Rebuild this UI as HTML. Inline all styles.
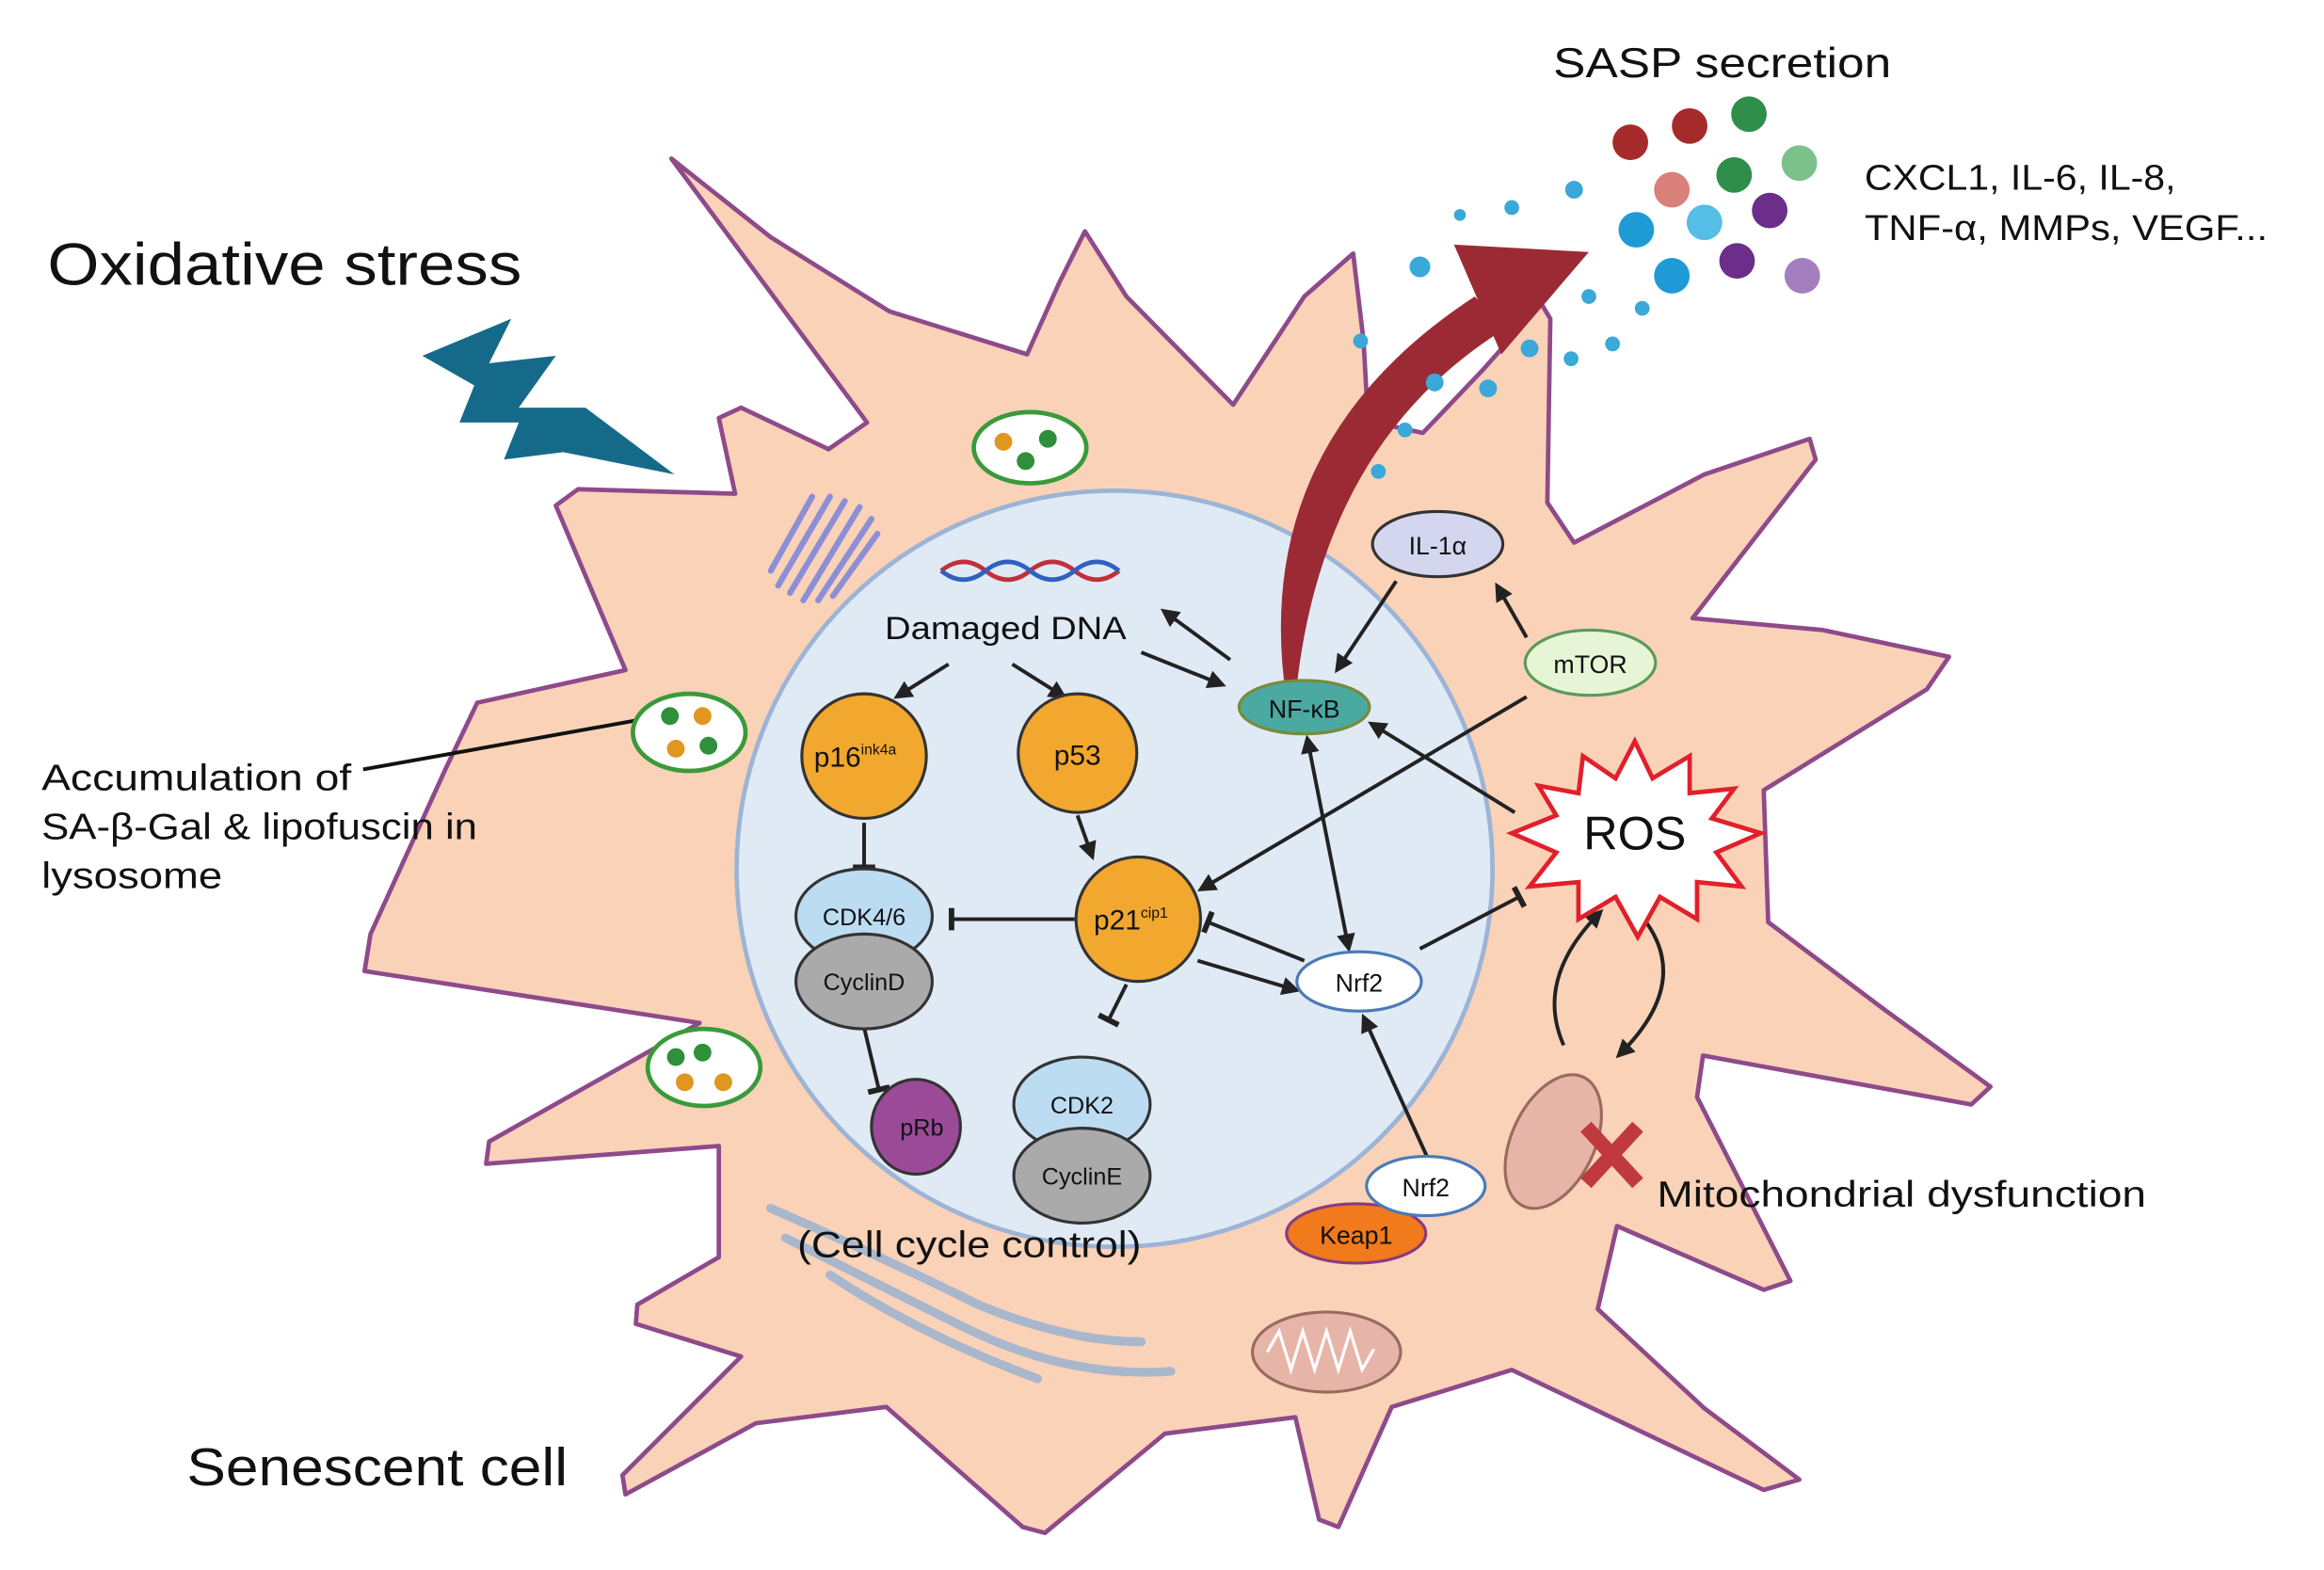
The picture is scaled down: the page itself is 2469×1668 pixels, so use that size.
<!DOCTYPE html>
<html><head><meta charset="utf-8"><style>
html,body{margin:0;padding:0;background:#fff;}
svg{display:block;}
text{font-family:"Liberation Sans",sans-serif;}
</style></head><body>
<svg width="2469" height="1668" viewBox="0 0 1568 1059" preserveAspectRatio="none" xmlns="http://www.w3.org/2000/svg">
<defs>
<marker id="ah" viewBox="0 0 10 10" refX="8" refY="5" markerWidth="5" markerHeight="5" orient="auto-start-reverse"><path d="M0,0 L10,5 L0,10 z" fill="#222"/></marker>
<marker id="tb" viewBox="0 0 10 10" refX="5" refY="5" markerWidth="6" markerHeight="6" orient="auto"><path d="M5,0 L5,10" stroke="#222" stroke-width="2.5"/></marker>
</defs>
<!-- cell -->
<polygon points="453,107 520,160 600,210 693,239 715,190 732,156 760,200 832,273 880,200 913,171 920,230 923,284 960,292 1000,250 1040,205 1046,215 1044,339 1062,366 1150,320 1221,296 1225,310 1142,417 1230,425 1315,443 1300,465 1190,533 1193,622 1270,680 1343,733 1330,745 1149,712 1145,740 1208,864 1190,870 1091,827 1078,883 1150,950 1214,998 1190,1005 1020,924 939,949 903,1030 890,1025 874,956 786,967 705,1034 690,1030 598,949 510,960 422,1008 420,995 500,915 429,893 430,880 485,848 485,773 328,785 330,770 472,690 246,655 250,630 300,520 322,474 422,452 375,341 390,330 496,333 485,282 500,275 559,303 585,285" fill="#fad2b8" stroke="#8e4a8a" stroke-width="3" stroke-linejoin="round"/>
<!-- nucleus -->
<circle cx="752" cy="586" r="255" fill="#dfeaf5" stroke="#9cb4d6" stroke-width="3"/>
<!-- texts -->
<text x="32" y="192" font-size="40" fill="#111" textLength="320" lengthAdjust="spacingAndGlyphs">Oxidative stress</text>
<text x="126" y="1002" font-size="36" fill="#111" textLength="257" lengthAdjust="spacingAndGlyphs">Senescent cell</text>
<text x="1048" y="52" font-size="28" fill="#111" textLength="228" lengthAdjust="spacingAndGlyphs">SASP secretion</text>
<text x="1258" y="128" font-size="24" fill="#111" textLength="210" lengthAdjust="spacingAndGlyphs">CXCL1, IL-6, IL-8,</text>
<text x="1258" y="162" font-size="24" fill="#111" textLength="272" lengthAdjust="spacingAndGlyphs">TNF-α, MMPs, VEGF...</text>
<text x="28" y="533" font-size="25" fill="#111" textLength="209" lengthAdjust="spacingAndGlyphs">Accumulation of</text>
<text x="28" y="566" font-size="25" fill="#111" textLength="294" lengthAdjust="spacingAndGlyphs">SA-β-Gal &amp; lipofuscin in</text>
<text x="28" y="599" font-size="25" fill="#111" textLength="122" lengthAdjust="spacingAndGlyphs">lysosome</text>
<text x="1118" y="814" font-size="25" fill="#111" textLength="330" lengthAdjust="spacingAndGlyphs">Mitochondrial dysfunction</text>
<text x="597" y="431" font-size="22" fill="#111" textLength="163" lengthAdjust="spacingAndGlyphs">Damaged DNA</text>
<!-- lightning -->
<path d="M285,240 L345,215 L330,245 L375,240 L350,275 L395,275 L455,320 L380,305 L340,310 L350,285 L310,285 L320,260 Z" fill="#156a8a"/>
<!-- pointer line -->
<line x1="245" y1="519" x2="440" y2="484" stroke="#111" stroke-width="2.5"/>
<!-- lysosomes -->
<g stroke="#3a9a3a" stroke-width="3" fill="#fff">
<ellipse cx="695" cy="302" rx="38" ry="24"/><ellipse cx="465" cy="494" rx="38" ry="26"/><ellipse cx="475" cy="720" rx="38" ry="26"/></g>
<g stroke="none">
<circle cx="677" cy="298" r="6" fill="#e0961f"/><circle cx="707" cy="296" r="6" fill="#2f8f3a"/><circle cx="692" cy="311" r="6" fill="#2f8f3a"/>
<circle cx="452" cy="483" r="6" fill="#2f8f3a"/><circle cx="474" cy="483" r="6" fill="#e0961f"/><circle cx="456" cy="505" r="6" fill="#e0961f"/><circle cx="478" cy="503" r="6" fill="#2f8f3a"/>
<circle cx="456" cy="713" r="6" fill="#2f8f3a"/><circle cx="474" cy="710" r="6" fill="#2f8f3a"/><circle cx="462" cy="730" r="6" fill="#e0961f"/><circle cx="488" cy="730" r="6" fill="#e0961f"/></g>
<!-- golgi -->
<g stroke="#8c8fd6" stroke-width="4" fill="none" stroke-linecap="round">
<path d="M525,395 L560,335"/><path d="M533,400 L570,338"/><path d="M542,405 L580,342"/><path d="M552,405 L588,350"/><path d="M562,402 L592,360"/><path d="M520,385 L548,335"/></g>
<!-- ER -->
<g stroke="#a9b7cc" stroke-width="6" fill="none" stroke-linecap="round">
<path d="M520,815 Q600,850 660,880 Q720,905 770,905"/><path d="M530,835 Q600,870 650,895 Q720,930 790,925"/><path d="M560,860 Q620,900 700,930"/></g>
<!-- mitochondria -->
<ellipse cx="895" cy="912" rx="50" ry="27" fill="#e7b5a8" stroke="#9a6a60" stroke-width="2"/>
<path d="M855,912 l8,-14 l8,26 l8,-26 l8,26 l8,-26 l8,26 l8,-26 l8,26 l8,-14" stroke="#fff" stroke-width="2" fill="none"/>
<ellipse cx="1048" cy="770" rx="28" ry="48" transform="rotate(25 1048 770)" fill="#e7b5a8" stroke="#9a6a60" stroke-width="2"/>
<path d="M1070,760 L1105,798 M1105,760 L1070,798" stroke="#c0393f" stroke-width="10"/>
<!-- DNA -->
<path d="M635,385 q15,-12 30,0 t30,0 t30,0 t30,0" stroke="#c0303a" stroke-width="3" fill="none"/>
<path d="M635,385 q15,12 30,0 t30,0 t30,0 t30,0" stroke="#3060c0" stroke-width="3" fill="none"/>
<!-- big red arrow -->
<path d="M868,472 Q842,300 995,200 L1015,222 Q890,300 874,472 Z" fill="#9b2a35"/>
<path d="M981,165 L1072,170 L1013,239 Z" fill="#9b2a35"/>
<!-- SASP dots -->
<g>
<circle cx="1100" cy="96" r="12" fill="#a52a2a"/><circle cx="1140" cy="85" r="12" fill="#a52a2a"/><circle cx="1180" cy="77" r="12" fill="#2f8f4a"/>
<circle cx="1128" cy="128" r="12" fill="#d9807a"/><circle cx="1170" cy="118" r="12" fill="#2f8f4a"/><circle cx="1214" cy="110" r="12" fill="#7cc08a"/>
<circle cx="1104" cy="155" r="12" fill="#1e9ad6"/><circle cx="1150" cy="150" r="12" fill="#55bde6"/><circle cx="1194" cy="142" r="12" fill="#6b2e8a"/>
<circle cx="1128" cy="186" r="12" fill="#1e9ad6"/><circle cx="1172" cy="176" r="12" fill="#6b2e8a"/><circle cx="1216" cy="186" r="12" fill="#a37fc0"/>
<g fill="#3aa8d8"><circle cx="1062" cy="128" r="6"/><circle cx="1020" cy="140" r="5"/><circle cx="985" cy="145" r="4"/><circle cx="958" cy="180" r="7"/><circle cx="1072" cy="200" r="5"/><circle cx="1108" cy="208" r="5"/><circle cx="1088" cy="232" r="5"/><circle cx="1060" cy="242" r="5"/><circle cx="1032" cy="235" r="6"/><circle cx="1004" cy="262" r="6"/><circle cx="968" cy="258" r="6"/><circle cx="948" cy="290" r="5"/><circle cx="930" cy="318" r="5"/><circle cx="918" cy="230" r="5"/></g>
</g>
<!-- connectors -->
<g stroke="#222" stroke-width="2.5" fill="none">
<line x1="640" y1="448" x2="605" y2="470" marker-end="url(#ah)"/>
<line x1="683" y1="448" x2="718" y2="470" marker-end="url(#ah)"/>
<line x1="770" y1="440" x2="825" y2="462" marker-end="url(#ah)"/>
<line x1="830" y1="445" x2="785" y2="412" marker-end="url(#ah)"/>
<line x1="942" y1="392" x2="902" y2="452" marker-end="url(#ah)"/>
<line x1="1030" y1="430" x2="1010" y2="395" marker-end="url(#ah)"/>
<line x1="1030" y1="470" x2="810" y2="600" marker-end="url(#ah)"/>
<line x1="1022" y1="548" x2="925" y2="488" marker-end="url(#ah)"/>
<line x1="910" y1="640" x2="882" y2="498" marker-start="url(#ah)" marker-end="url(#ah)"/>
<line x1="727" y1="550" x2="737" y2="578" marker-end="url(#ah)"/>
<line x1="583" y1="555" x2="583" y2="585" marker-end="url(#tb)"/>
<line x1="725" y1="620" x2="642" y2="620" marker-end="url(#tb)"/>
<line x1="880" y1="648" x2="815" y2="622" marker-end="url(#tb)"/>
<line x1="808" y1="648" x2="875" y2="668" marker-end="url(#ah)"/>
<line x1="760" y1="664" x2="748" y2="688" marker-end="url(#tb)"/>
<line x1="583" y1="693" x2="593" y2="735" marker-end="url(#tb)"/>
<line x1="958" y1="640" x2="1025" y2="605" marker-end="url(#tb)"/>
<line x1="965" y1="785" x2="920" y2="686" marker-end="url(#ah)"/>
<path d="M1055,705 Q1035,660 1080,615" marker-end="url(#ah)"/>
<path d="M1105,615 Q1145,660 1092,712" marker-end="url(#ah)"/>
</g>
<!-- ROS star -->
<polygon points="1103,500 1115,525 1140,510 1140,535 1170,532 1155,552 1188,562 1158,575 1175,598 1145,595 1145,620 1120,605 1105,632 1090,605 1065,620 1065,595 1032,598 1050,575 1020,562 1050,550 1038,530 1065,535 1068,510 1090,525" fill="#fff" stroke="#e0202a" stroke-width="3"/>
<text x="1103" y="573" font-size="32" text-anchor="middle" fill="#111">ROS</text>
<!-- proteins -->
<g stroke="#333" stroke-width="2">
<circle cx="583" cy="510" r="42" fill="#f2a72e"/>
<circle cx="727" cy="508" r="40" fill="#f2a72e"/>
<ellipse cx="583" cy="618" rx="46" ry="32" fill="#bcdcf2"/>
<ellipse cx="583" cy="662" rx="46" ry="32" fill="#aaa"/>
<circle cx="768" cy="620" r="42" fill="#f2a72e"/>
<ellipse cx="618" cy="760" rx="30" ry="32" fill="#9b4a98"/>
<ellipse cx="730" cy="745" rx="46" ry="32" fill="#bcdcf2"/>
<ellipse cx="730" cy="793" rx="46" ry="32" fill="#aaa"/>
<ellipse cx="880" cy="477" rx="44" ry="18" fill="#4aa9a0" stroke="#7a8a3a"/>
<ellipse cx="970" cy="367" rx="44" ry="22" fill="#d3d6ee"/>
<ellipse cx="1073" cy="447" rx="44" ry="22" fill="#e7f5d7" stroke="#5a9a5a"/>
<ellipse cx="917" cy="662" rx="42" ry="20" fill="#fff" stroke="#4a7ab7"/>
<ellipse cx="915" cy="832" rx="47" ry="20" fill="#f07a1c" stroke="#8a3a80"/>
<ellipse cx="962" cy="800" rx="40" ry="20" fill="#fff" stroke="#4a7ab7"/>
</g>
<text x="538" y="848" font-size="25" fill="#111" textLength="232" lengthAdjust="spacingAndGlyphs">(Cell cycle control)</text>
<g font-size="19" text-anchor="middle" fill="#111">
<text x="577" y="517">p16<tspan font-size="10" dy="-8">ink4a</tspan></text>
<text x="727" y="516">p53</text>
<text x="583" y="624" font-size="16">CDK4/6</text>
<text x="583" y="668" font-size="16">CyclinD</text>
<text x="763" y="627">p21<tspan font-size="10" dy="-8">cip1</tspan></text>
<text x="622" y="766" font-size="16">pRb</text>
<text x="730" y="751" font-size="16">CDK2</text>
<text x="730" y="799" font-size="16">CyclinE</text>
<text x="880" y="484" font-size="17">NF-κB</text>
<text x="970" y="374" font-size="17">IL-1α</text>
<text x="1073" y="454" font-size="17">mTOR</text>
<text x="917" y="669" font-size="17">Nrf2</text>
<text x="915" y="839" font-size="17">Keap1</text>
<text x="962" y="807" font-size="17">Nrf2</text>
</g>
</svg>
</body></html>
